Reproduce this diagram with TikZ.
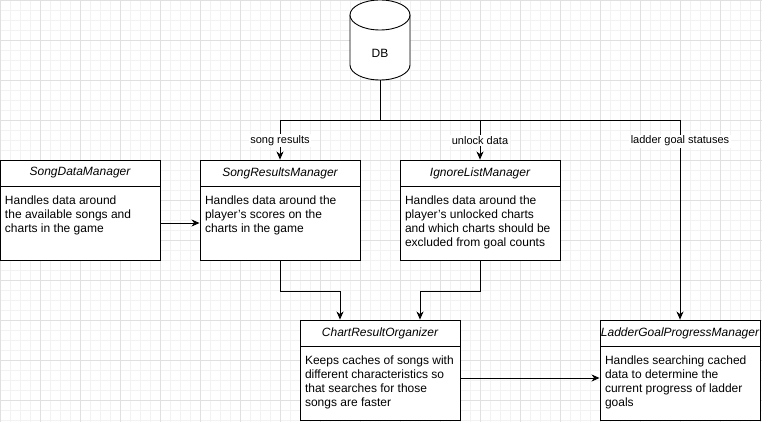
\documentclass[tikz,border=0pt]{standalone}
\usepackage{fontspec}
\setmainfont{Liberation Sans}
\usetikzlibrary{arrows.meta}

\newcommand{\classtext}[1]{\parbox[t][54pt][t]{150pt}{\raggedright #1}}

\begin{document}
\begin{tikzpicture}[
			x=1pt, y=-1pt,
			every node/.style={font=\fontsize{12}{14}\selectfont},
			classhead/.style={draw, line width=0.9pt, minimum width=160pt, minimum height=26pt, inner sep=0pt, fill=white, font=\fontsize{12}{14}\selectfont\itshape},
			classbody/.style={draw, line width=0.9pt, minimum width=160pt, minimum height=74pt, inner sep=0pt, fill=white},
			flow/.style={line width=0.9pt, -{Stealth[length=8pt, width=7pt, inset=2.5pt]}},
			lbl/.style={fill=white, inner sep=1.5pt, font=\fontsize{11}{13}\selectfont}
			]
			\useasboundingbox (0,0) rectangle (762,422);
			\fill[white] (0,0) rectangle (762,422);
			\draw[step=10pt, black!5, line width=0.5pt] (0,0) grid (762,422);
			\draw[step=40pt, black!12, line width=0.5pt] (0,0) grid (762,422);
			
			% database
			\draw[line width=0.9pt, fill=white] (350,15) -- (350,65) arc[start angle=180, end angle=0, x radius=30, y radius=15] -- (410,15);
			\draw[line width=0.9pt, fill=white] (380,15) ellipse[x radius=30, y radius=15];
			\node (db) at (380,53) {DB};
			\coordinate (dbBottom) at (380,80);
			\coordinate (split) at (380,120);
			
			% top row
			\node[classhead] (songDataHead) at (80,173) {SongDataManager};
			\node[classbody] (songData) at (80,223) {\classtext{Handles data around\\ the available songs and\\ charts in the game}};
			\node[classhead] (songResultsHead) at (280,173) {SongResultsManager};
			\node[classbody] (songResults) at (280,223) {\classtext{Handles data around the\\ player's scores on the\\ charts in the game}};
			\node[classhead] (ignoreListHead) at (480,173) {IgnoreListManager};
			\node[classbody] (ignoreList) at (480,223) {\classtext{Handles data around the\\ player's unlocked charts\\ and which charts should be\\ excluded from goal counts}};
			
			% bottom row
			\node[classhead] (chartOrgHead) at (380,333) {ChartResultOrganizer};
			\node[classbody] (chartOrg) at (380,383) {\classtext{Keeps caches of songs with\\ different characteristics so\\ that searches for those\\ songs are faster}};
			\node[classhead] (ladderHead) at (680,333) {LadderGoalProgressManager};
			\node[classbody] (ladder) at (680,383) {\classtext{Handles searching cached\\ data to determine the\\ current progress of ladder\\ goals}};
			
			% connectors
			\draw[line width=0.9pt] (dbBottom) -- (split);
			\draw[flow] (split) -| node[pos=0.76, lbl] {song results} (songResultsHead.north);
			\draw[flow] (split) -| node[pos=0.76, lbl] {unlock data} (ignoreListHead.north);
			\draw[flow] (split) -| node[pos=0.553, lbl] {ladder goal statuses} (ladderHead.north);
			\draw[flow] (songData.east) -- (songResults.west);
			\draw[flow] (songResults.south) -- ++(0,31) -| ([xshift=-40pt]chartOrgHead.north);
			\draw[flow] (ignoreList.south) -- ++(0,31) -| ([xshift=40pt]chartOrgHead.north);
			\draw[flow] ([yshift=5pt]chartOrg.east) -- ([yshift=5pt]ladder.west);
		\end{tikzpicture}
\end{document}
